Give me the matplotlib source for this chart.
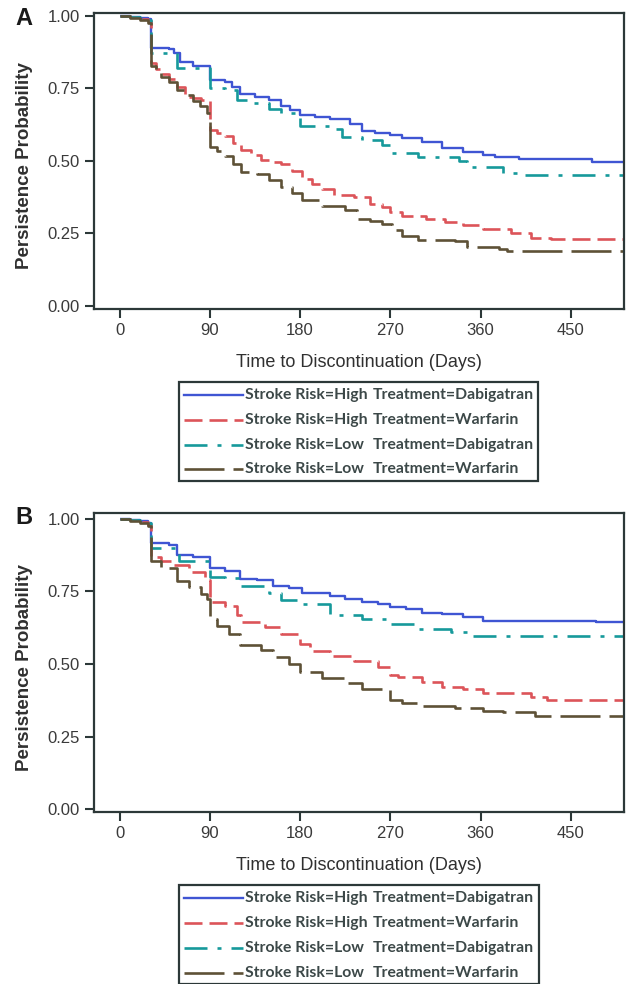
import matplotlib
matplotlib.use("Agg")
import matplotlib.pyplot as plt
from matplotlib.patches import Rectangle
from matplotlib.lines import Line2D

W, H = 629, 984
plt.rcParams['lines.scale_dashes'] = False

# ---------------- data ----------------
series_names = ["Stroke Risk=High", "Stroke Risk=High", "Stroke Risk=Low", "Stroke Risk=Low"]
treatments = ["Treatment=Dabigatran", "Treatment=Warfarin", "Treatment=Dabigatran", "Treatment=Warfarin"]
x_ticks = [0, 90, 180, 270, 360, 450]
y_ticks = [0.00, 0.25, 0.50, 0.75, 1.00]
y_tick_labels = ["0.00", "0.25", "0.50", "0.75", "1.00"]
panel_labels = ["A", "B"]
x_label = "Time to Discontinuation (Days)"
y_label = "Persistence Probability"

# Panel A
a_high_dab_days = [0, 10, 20, 28, 31, 49, 54, 60, 73, 90, 105, 112, 120, 135, 149, 161, 170, 180, 195, 210, 230, 242, 255, 270, 282, 302, 322, 342, 362, 374, 398, 471, 505]
a_high_dab_vals = [1.0, 0.997, 0.993, 0.99, 0.888, 0.885, 0.872, 0.84, 0.828, 0.778, 0.77, 0.755, 0.729, 0.72, 0.71, 0.69, 0.675, 0.657, 0.65, 0.645, 0.626, 0.602, 0.595, 0.59, 0.578, 0.565, 0.545, 0.531, 0.52, 0.513, 0.507, 0.497, 0.497]
a_high_war_days = [0, 10, 20, 28, 31, 36, 41, 49, 57, 65, 73, 81, 90, 97, 105, 113, 121, 131, 141, 151, 161, 172, 182, 192, 202, 214, 234, 250, 262, 270, 282, 306, 325, 342, 362, 390, 410, 430, 505]
a_high_war_vals = [1.0, 0.995, 0.99, 0.982, 0.836, 0.815, 0.80, 0.78, 0.755, 0.72, 0.715, 0.71, 0.605, 0.595, 0.585, 0.56, 0.536, 0.52, 0.504, 0.497, 0.49, 0.465, 0.438, 0.42, 0.404, 0.383, 0.375, 0.352, 0.34, 0.323, 0.311, 0.30, 0.29, 0.28, 0.265, 0.25, 0.234, 0.229, 0.229]
a_low_dab_days = [0, 10, 20, 28, 31, 57, 90, 105, 117, 133, 149, 161, 180, 210, 222, 242, 262, 270, 298, 338, 346, 382, 398, 505]
a_low_dab_vals = [1.0, 0.995, 0.99, 0.985, 0.871, 0.819, 0.752, 0.745, 0.709, 0.70, 0.68, 0.665, 0.619, 0.608, 0.582, 0.57, 0.555, 0.528, 0.513, 0.50, 0.479, 0.459, 0.451, 0.451]
a_low_war_days = [0, 10, 20, 28, 31, 36, 41, 49, 57, 65, 73, 80, 87, 90, 97, 105, 113, 121, 137, 149, 161, 172, 182, 202, 225, 237, 250, 262, 272, 282, 298, 334, 346, 378, 386, 505]
a_low_war_vals = [1.0, 0.993, 0.985, 0.975, 0.825, 0.81, 0.79, 0.77, 0.744, 0.725, 0.707, 0.69, 0.663, 0.548, 0.535, 0.517, 0.49, 0.461, 0.455, 0.435, 0.41, 0.39, 0.363, 0.344, 0.331, 0.30, 0.292, 0.283, 0.262, 0.242, 0.227, 0.222, 0.202, 0.196, 0.19, 0.19]

# Panel B
b_high_dab_days = [0, 10, 20, 28, 31, 49, 57, 73, 90, 105, 120, 137, 153, 169, 182, 210, 225, 242, 258, 270, 286, 302, 322, 342, 362, 475, 505]
b_high_dab_vals = [1.0, 0.997, 0.993, 0.985, 0.916, 0.91, 0.876, 0.87, 0.83, 0.82, 0.793, 0.79, 0.769, 0.76, 0.744, 0.735, 0.725, 0.713, 0.705, 0.695, 0.69, 0.677, 0.672, 0.661, 0.649, 0.644, 0.644]
b_high_war_days = [0, 10, 20, 28, 31, 41, 53, 69, 85, 90, 105, 117, 121, 145, 161, 180, 190, 210, 234, 258, 270, 278, 302, 322, 342, 362, 410, 426, 505]
b_high_war_vals = [1.0, 0.995, 0.99, 0.98, 0.868, 0.855, 0.84, 0.816, 0.79, 0.713, 0.70, 0.667, 0.644, 0.629, 0.603, 0.569, 0.546, 0.529, 0.511, 0.489, 0.463, 0.454, 0.437, 0.42, 0.414, 0.399, 0.387, 0.377, 0.377]
b_low_dab_days = [0, 10, 20, 28, 31, 59, 90, 105, 120, 149, 161, 182, 210, 242, 270, 298, 330, 346, 505]
b_low_dab_vals = [1.0, 0.996, 0.99, 0.985, 0.90, 0.853, 0.801, 0.795, 0.767, 0.745, 0.72, 0.707, 0.669, 0.655, 0.636, 0.62, 0.61, 0.598, 0.598]
b_low_war_days = [0, 10, 20, 28, 31, 41, 57, 69, 81, 87, 90, 97, 109, 120, 141, 153, 169, 180, 202, 225, 242, 270, 282, 302, 334, 362, 382, 414, 505]
b_low_war_vals = [1.0, 0.993, 0.985, 0.975, 0.853, 0.83, 0.787, 0.764, 0.74, 0.724, 0.655, 0.63, 0.603, 0.567, 0.549, 0.523, 0.50, 0.471, 0.452, 0.433, 0.414, 0.377, 0.366, 0.356, 0.348, 0.339, 0.335, 0.322, 0.322]

panels = [
    [(a_high_dab_days, a_high_dab_vals), (a_high_war_days, a_high_war_vals),
     (a_low_dab_days, a_low_dab_vals), (a_low_war_days, a_low_war_vals)],
    [(b_high_dab_days, b_high_dab_vals), (b_high_war_days, b_high_war_vals),
     (b_low_dab_days, b_low_dab_vals), (b_low_war_days, b_low_war_vals)],
]

# ---------------- styles ----------------
colors = ["#3f55d3", "#dc5459", "#16999b", "#5e5136"]
px = 0.72  # points per pixel at dpi 100
dashes = [None, (18 * px, 7 * px), (23 * px, 10 * px, 4 * px, 10 * px), (40 * px, 9 * px)]
lws = [1.7, 1.9, 1.9, 1.9]
dark = "#2c3838"
txt = "#3a3a3a"

fig = plt.figure(figsize=(W / 100, H / 100), dpi=100, facecolor="white")

def fx(x):
    return x / W

def fy(y):
    return 1 - y / H

# axes rectangles in pixels (left, top, right, bottom)
ax_px = [(93.5, 12.5, 624.0, 309.5), (93.5, 513.3, 624.0, 812.3)]
ylims = [(-0.013, 1.011), (-0.011, 1.019)]
xlab_y = [363, 866]
panel_lab_y = [18.5, 518]
leg_boxes = [(178.5, 382, 538, 480.5), (179, 885, 538.5, 983.5)]
leg_rows = [[395, 420, 445, 469.5], [898.3, 923.3, 947.7, 972.7]]

for p in range(2):
    l, t, r, b = ax_px[p]
    ax = fig.add_axes([fx(l), fy(b), (r - l) / W, (b - t) / H])
    ax.set_facecolor("white")
    for i, (d, v) in enumerate(panels[p]):
        line, = ax.step(d, v, where="post", color=colors[i], lw=lws[i], solid_capstyle="butt")
        if dashes[i] is not None:
            line.set_dashes(dashes[i])
            line.set_dash_capstyle("butt")
    ax.set_xlim(-26, 503)
    ax.set_ylim(*ylims[p])
    ax.set_xticks(x_ticks)
    ax.set_xticklabels([str(v) for v in x_ticks])
    ax.set_yticks(y_ticks)
    ax.set_yticklabels(y_tick_labels)
    for s in ax.spines.values():
        s.set_color(dark)
        s.set_linewidth(1.6)
    ax.tick_params(axis="both", direction="out", length=6.5, width=1.5, color=dark,
                   labelsize=12, labelcolor=txt, pad=3.5)
    for lab in ax.get_xticklabels() + ax.get_yticklabels():
        lab.set_family("Liberation Sans")
    ax.set_xlabel(x_label, fontsize=13, family="Liberation Sans", color="#303030")
    ax.xaxis.label.set_va("center")
    ax.xaxis.set_label_coords(0.5, -(xlab_y[p] - b) / (b - t))
    ax.set_ylabel(y_label, fontsize=13.5, family="Liberation Sans", fontweight="bold", color="#303030")
    ax.yaxis.label.set_va("center")
    ax.yaxis.set_label_coords((25 - l) / (r - l), 0.483)

    fig.text(fx(24), fy(panel_lab_y[p]), panel_labels[p], fontsize=17, fontweight="bold",
             family="Liberation Sans", ha="center", va="center", color="#1a1a1a")

    # legend box
    bl, bt, br, bb = leg_boxes[p]
    fig.patches.append(Rectangle((fx(bl), fy(bb)), (br - bl) / W, (bb - bt) / H,
                                 transform=fig.transFigure, fill=False, edgecolor=dark, lw=1.6))
    for i in range(4):
        yy = leg_rows[p][i]
        ln = Line2D([fx(183.5), fx(243)], [fy(yy), fy(yy)], transform=fig.transFigure,
                    color=colors[i], lw=lws[i])
        if dashes[i] is not None:
            ln.set_dashes(dashes[i])
        fig.lines.append(ln)
        fig.text(fx(245), fy(yy), series_names[i], fontsize=11.3, family="Lato",
                 fontweight="bold", ha="left", va="center", color="#3c4848")
        fig.text(fx(373), fy(yy), treatments[i], fontsize=11.3, family="Lato",
                 fontweight="bold", ha="left", va="center", color="#3c4848")

fig.savefig("out.png", dpi=100, facecolor="white")
